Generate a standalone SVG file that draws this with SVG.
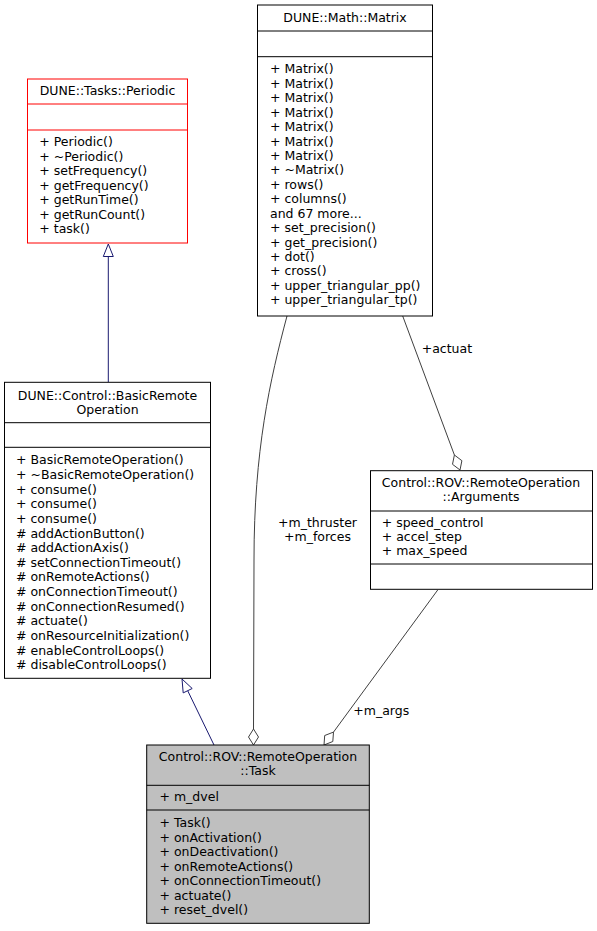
<svg xmlns="http://www.w3.org/2000/svg" width="597" height="931" viewBox="0 0 597 931">
<style>
text{font-family:"DejaVu Sans","Noto Sans",sans-serif;font-size:12.5px;fill:#000}
.c{text-anchor:middle}
.box{fill:#fff;stroke:#000;stroke-width:1}
.red{fill:#fff;stroke:#ff0000;stroke-width:1}
.gray{fill:#bfbfbf;stroke:#000;stroke-width:1}
.sep{stroke:#000;stroke-width:1}
.sepr{stroke:#ff0000;stroke-width:1}
.inh{fill:none;stroke:#191970;stroke-width:1}
.inhh{fill:#fff;stroke:#191970;stroke-width:1}
.agg{fill:none;stroke:#404040;stroke-width:1}
.aggh{fill:#fff;stroke:#404040;stroke-width:1}
</style>
<rect width="597" height="931" fill="#fff"/>
<g id="connectors">
  <line class="inh" x1="108.3" y1="382" x2="108.3" y2="256.5"/>
  <polygon class="inhh" points="108.3,244 113.3,256.5 103.3,256.5"/>
  <line class="inh" x1="214" y1="745" x2="187.7" y2="690.7"/>
  <polygon class="inhh" points="182,679 192.2,688.5 183.2,692.9"/>
  <path class="agg" d="M287,316 C270,380 254,450 254,560 L253.5,729"/>
  <polygon class="aggh" points="253.5,745 258.5,737 253.5,729 248.5,737"/>
  <line class="agg" x1="402.7" y1="316" x2="454.4" y2="455"/>
  <polygon class="aggh" points="460,470 461.9,460.7 454.4,455 452.5,464.3"/>
  <line class="agg" x1="437.7" y1="590" x2="333.5" y2="732.1"/>
  <polygon class="aggh" points="324,745 332.8,741.5 333.5,732.1 324.7,735.5"/>
  <text class="c" x="317.5" y="526.7">+m_thruster</text>
  <text class="c" x="317.5" y="540.7">+m_forces</text>
  <text x="421.7" y="352.7">+actuat</text>
  <text x="353.3" y="715">+m_args</text>
</g>
<g id="periodic">
  <rect class="red" x="27.5" y="79" width="160" height="164"/>
  <line class="sepr" x1="27.5" y1="104" x2="187.5" y2="104"/>
  <line class="sepr" x1="27.5" y1="130" x2="187.5" y2="130"/>
  <text class="c" x="107.5" y="95">DUNE::Tasks::Periodic</text>
  <text x="39.3" y="146">+ Periodic()</text>
  <text x="39.3" y="160.6">+ ~Periodic()</text>
  <text x="39.3" y="175.1">+ setFrequency()</text>
  <text x="39.3" y="189.7">+ getFrequency()</text>
  <text x="39.3" y="204.2">+ getRunTime()</text>
  <text x="39.3" y="218.8">+ getRunCount()</text>
  <text x="39.3" y="233.3">+ task()</text>
</g>
<g id="matrix">
  <rect class="box" x="257.5" y="5" width="175" height="311"/>
  <line class="sep" x1="257.5" y1="31" x2="432.5" y2="31"/>
  <line class="sep" x1="257.5" y1="56.7" x2="432.5" y2="56.7"/>
  <text class="c" x="345" y="21.6">DUNE::Math::Matrix</text>
  <text x="270" y="73.3">+ Matrix()</text>
  <text x="270" y="87.7">+ Matrix()</text>
  <text x="270" y="102.2">+ Matrix()</text>
  <text x="270" y="116.6">+ Matrix()</text>
  <text x="270" y="131">+ Matrix()</text>
  <text x="270" y="145.5">+ Matrix()</text>
  <text x="270" y="159.9">+ Matrix()</text>
  <text x="270" y="174.3">+ ~Matrix()</text>
  <text x="270" y="188.7">+ rows()</text>
  <text x="270" y="203.2">+ columns()</text>
  <text x="270" y="217.6">and 67 more...</text>
  <text x="270" y="232">+ set_precision()</text>
  <text x="270" y="246.5">+ get_precision()</text>
  <text x="270" y="260.9">+ dot()</text>
  <text x="270" y="275.3">+ cross()</text>
  <text x="270" y="289.8">+ upper_triangular_pp()</text>
  <text x="270" y="304.2">+ upper_triangular_tp()</text>
</g>
<g id="basicremote">
  <rect class="box" x="4.5" y="382.3" width="206" height="296"/>
  <line class="sep" x1="4.5" y1="422.7" x2="210.5" y2="422.7"/>
  <line class="sep" x1="4.5" y1="447.3" x2="210.5" y2="447.3"/>
  <text class="c" x="107.5" y="399.5">DUNE::Control::BasicRemote</text>
  <text class="c" x="107.5" y="413.5">Operation</text>
  <text x="16" y="464.3">+ BasicRemoteOperation()</text>
  <text x="16" y="478.9">+ ~BasicRemoteOperation()</text>
  <text x="16" y="493.6">+ consume()</text>
  <text x="16" y="508.2">+ consume()</text>
  <text x="16" y="522.9">+ consume()</text>
  <text x="16" y="537.5"># addActionButton()</text>
  <text x="16" y="552.1"># addActionAxis()</text>
  <text x="16" y="566.8"># setConnectionTimeout()</text>
  <text x="16" y="581.4"># onRemoteActions()</text>
  <text x="16" y="596.1"># onConnectionTimeout()</text>
  <text x="16" y="610.7"># onConnectionResumed()</text>
  <text x="16" y="625.3"># actuate()</text>
  <text x="16" y="640"># onResourceInitialization()</text>
  <text x="16" y="654.6"># enableControlLoops()</text>
  <text x="16" y="669.3"># disableControlLoops()</text>
</g>
<g id="arguments">
  <rect class="box" x="370.5" y="470.7" width="222" height="118.6"/>
  <line class="sep" x1="370.5" y1="511" x2="592.5" y2="511"/>
  <line class="sep" x1="370.5" y1="564" x2="592.5" y2="564"/>
  <text class="c" x="481" y="487.3">Control::ROV::RemoteOperation</text>
  <text class="c" x="481" y="501.3">::Arguments</text>
  <text x="381.7" y="526.5">+ speed_control</text>
  <text x="381.7" y="541">+ accel_step</text>
  <text x="381.7" y="555">+ max_speed</text>
</g>
<g id="task">
  <rect class="gray" x="146.7" y="745" width="222.6" height="178.3"/>
  <line class="sep" x1="146.7" y1="785.3" x2="369.3" y2="785.3"/>
  <line class="sep" x1="146.7" y1="810" x2="369.3" y2="810"/>
  <text class="c" x="258" y="761.2">Control::ROV::RemoteOperation</text>
  <text class="c" x="258" y="775.2">::Task</text>
  <text x="159.5" y="801">+ m_dvel</text>
  <text x="159.5" y="827">+ Task()</text>
  <text x="159.5" y="841.6">+ onActivation()</text>
  <text x="159.5" y="856.1">+ onDeactivation()</text>
  <text x="159.5" y="870.7">+ onRemoteActions()</text>
  <text x="159.5" y="885.2">+ onConnectionTimeout()</text>
  <text x="159.5" y="899.8">+ actuate()</text>
  <text x="159.5" y="914.3">+ reset_dvel()</text>
</g>
</svg>
